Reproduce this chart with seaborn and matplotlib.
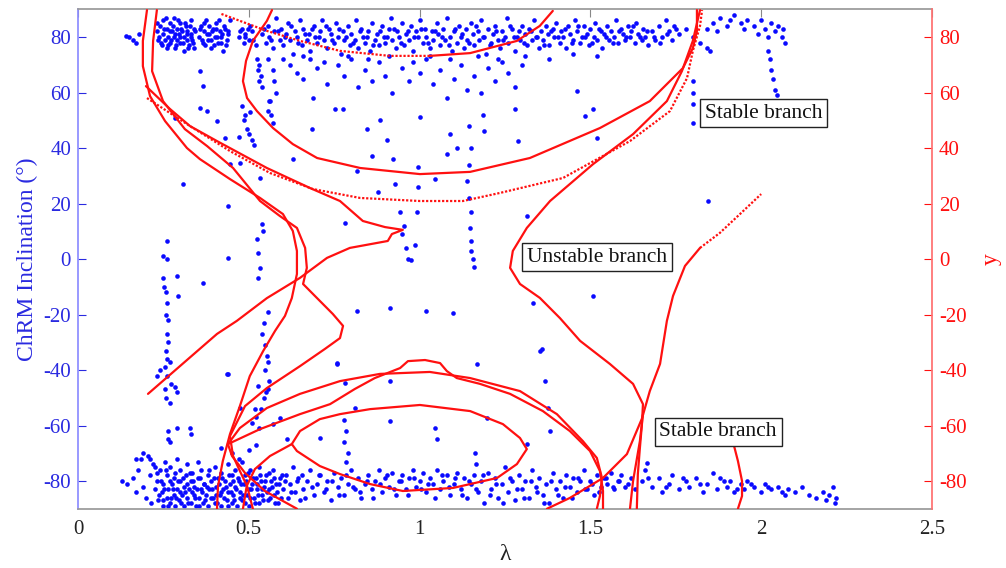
import numpy as np
import pandas as pd
import matplotlib
matplotlib.use("Agg")
import matplotlib.pyplot as plt
import seaborn as sns

# ---------------- data: blue scatter (ChRM inclination vs lambda) ----------------
upper_band_lam = [0.14, 0.15, 0.16, 0.17, 0.18,
    0.23, 0.235, 0.24, 0.245, 0.25, 0.25, 0.255, 0.26, 0.26, 0.265, 0.27, 0.27, 0.275, 0.28, 0.28, 0.285,
    0.29, 0.29, 0.295, 0.30, 0.30, 0.305, 0.31, 0.31, 0.315, 0.32, 0.32, 0.325, 0.33, 0.33, 0.335, 0.34, 0.34,
    0.355, 0.36, 0.365, 0.37, 0.375, 0.38, 0.385, 0.39, 0.395, 0.40, 0.405, 0.41, 0.415, 0.42, 0.425, 0.43,
    0.435, 0.44, 0.445, 0.47, 0.48, 0.485, 0.49, 0.50, 0.505, 0.51, 0.52,
    0.54, 0.55, 0.555, 0.56, 0.57, 0.575, 0.58, 0.59, 0.595, 0.60, 0.61, 0.615, 0.62, 0.63, 0.635, 0.64, 0.65,
    0.655, 0.66, 0.67, 0.675, 0.68, 0.69, 0.695, 0.70, 0.71, 0.715, 0.72, 0.73, 0.735, 0.74, 0.75, 0.755, 0.76,
    0.77, 0.775, 0.78, 0.79, 0.795, 0.80, 0.81, 0.815, 0.82, 0.83, 0.835, 0.84, 0.85, 0.855, 0.86, 0.87, 0.875,
    0.88, 0.89, 0.895, 0.90, 0.91, 0.915, 0.92, 0.93, 0.935, 0.94, 0.95, 0.955, 0.96, 0.97, 0.975, 0.98, 0.99,
    0.995, 1.00, 1.01, 1.015, 1.02, 1.03, 1.035, 1.04, 1.05, 1.055, 1.06, 1.07, 1.075, 1.08, 1.09, 1.095, 1.10,
    1.11, 1.115, 1.12, 1.13, 1.135, 1.14, 1.15, 1.155, 1.16, 1.17, 1.175, 1.18, 1.19, 1.195, 1.20, 1.21, 1.215,
    1.22, 1.23, 1.235, 1.24, 1.25, 1.255, 1.26, 1.27, 1.275, 1.28, 1.29, 1.295, 1.30, 1.31, 1.315, 1.32, 1.33,
    1.335, 1.34, 1.35, 1.355, 1.36, 1.37, 1.375, 1.38, 1.39, 1.395, 1.40, 1.41, 1.415, 1.42, 1.43, 1.435, 1.44,
    1.45, 1.455, 1.46, 1.47, 1.475, 1.48, 1.49, 1.495, 1.50, 1.51, 1.515, 1.52, 1.53, 1.535, 1.54, 1.55, 1.555,
    1.56, 1.57, 1.575, 1.58, 1.59, 1.595, 1.60, 1.61, 1.615, 1.62, 1.63, 1.635, 1.64, 1.65, 1.655, 1.66, 1.67,
    1.68, 1.69, 1.70, 1.71, 1.72, 1.73, 1.74, 1.75, 1.76,
    1.78, 1.80, 1.82, 1.84, 1.84, 1.85, 1.86, 1.87, 1.88, 1.90, 1.91, 1.92, 1.94, 1.95, 1.96, 1.98, 1.99, 2.00,
    2.01, 2.02, 2.03, 2.04, 2.05, 2.06, 2.065, 2.07]
upper_band_inc = [80.5, 80, 79, 78, 81,
    82, 79, 84, 77, 81, 86, 79, 83, 76, 80, 85, 78, 82, 80, 87, 76,
    83, 79, 81, 85, 78, 82, 80, 75, 84, 79, 82, 77, 81, 86, 79, 83, 76,
    80, 84, 78, 82, 86, 79, 81, 76, 83, 80, 85, 78, 82, 80, 75, 83,
    79, 81, 86, 80, 83, 78, 81, 79, 84, 82, 77,
    81, 78, 84, 80, 76, 82, 87, 79, 83, 77, 81, 85, 79, 74, 82, 80, 86,
    77, 83, 79, 81, 75, 84, 80, 78, 82, 86, 79, 76, 83, 81, 78, 85, 80,
    74, 82, 79, 84, 77, 81, 79, 86, 76, 83, 80, 78, 82, 75, 85, 79, 81,
    77, 84, 80, 78, 83, 87, 79, 76, 82, 80, 85, 77, 81, 79, 84, 75, 82,
    80, 86, 78, 83, 80, 76, 82, 79, 85, 81, 77, 83, 79, 87, 80, 75, 82,
    78, 84, 80, 76, 83, 79, 85, 81, 77, 82, 79, 86, 80, 74, 83, 78, 81,
    84, 79, 76, 82, 80, 87, 78, 83, 80, 75, 82, 79, 84, 81, 77, 83, 79,
    86, 80, 76, 82, 79, 84, 81, 77, 83, 80, 85, 78, 82, 80, 76, 84, 81,
    79, 86, 82, 78, 80, 84, 81, 77, 83, 80, 85, 79, 82, 76, 81, 84, 79,
    82, 80, 86, 78, 83, 81, 79, 84, 80, 82, 78, 85, 81, 79, 83, 80, 77,
    82, 79, 84, 80, 86, 82, 79, 83, 81,
    83, 80, 78, 83, 76, 75, 85, 82, 87, 84, 86, 88, 85, 83, 86, 84, 81, 86,
    83, 80, 85, 82, 84, 80, 83, 78]

upper_band2_lam = [0.232, 0.238, 0.243, 0.252, 0.258, 0.263, 0.268, 0.273, 0.278, 0.283, 0.288, 0.292, 0.298,
    0.303, 0.308, 0.312, 0.318, 0.323, 0.328, 0.332, 0.338, 0.343,
    0.358, 0.363, 0.368, 0.372, 0.378, 0.383, 0.388, 0.392, 0.398, 0.403, 0.408, 0.412, 0.418, 0.423, 0.428,
    0.433, 0.438, 0.475, 0.488, 0.498, 0.512,
    0.545, 0.565, 0.585, 0.605, 0.625, 0.645, 0.665, 0.685, 0.705, 0.725, 0.745, 0.765, 0.785, 0.805, 0.825,
    0.845, 0.865, 0.885, 0.905, 0.925, 0.945, 0.965, 0.985, 1.005, 1.025, 1.045, 1.065, 1.085, 1.105, 1.125,
    1.145, 1.165, 1.185, 1.205, 1.225, 1.245, 1.265, 1.285, 1.305, 1.325, 1.345, 1.365, 1.385, 1.405, 1.425,
    1.445, 1.465, 1.485, 1.505, 1.525, 1.545, 1.565, 1.585, 1.605, 1.625, 1.645, 1.665, 1.685, 1.705, 1.725,
    1.745,
    0.60, 0.66, 0.72, 0.79, 0.85, 0.91, 0.98, 1.03, 1.09, 1.17, 1.23, 1.31, 1.38, 1.45, 1.52]
upper_band2_inc = [85, 80, 78, 83, 87, 77, 82, 79, 84, 81, 77, 86, 80,
    83, 78, 85, 81, 76, 84, 80, 78, 82,
    83, 79, 85, 77, 81, 84, 79, 82, 77, 83, 80, 86, 78, 81, 84,
    77, 82, 82, 80, 83, 79,
    83, 79, 82, 80, 84, 78, 81, 83, 80, 84, 79, 83, 80, 78, 82,
    80, 77, 82, 80, 83, 78, 82, 80, 83, 78, 82, 80, 77, 83, 81,
    78, 84, 80, 77, 82, 79, 84, 80, 78, 82, 80, 77, 82, 80, 83,
    78, 84, 80, 78, 83, 80, 78, 82, 80, 84, 80, 82, 80, 78, 81,
    84,
    72, 73, 71, 73, 72, 73, 71, 73, 72, 73, 72, 73, 72, 74, 73]

lower_band_lam = [0.13, 0.145, 0.16, 0.17, 0.175, 0.185, 0.19, 0.20, 0.205, 0.21, 0.215, 0.22, 0.225, 0.23,
    0.235, 0.24, 0.245, 0.25, 0.25, 0.255, 0.26, 0.26, 0.265, 0.27, 0.27, 0.275, 0.28, 0.28, 0.285, 0.29, 0.29,
    0.295, 0.30, 0.30, 0.305, 0.31, 0.31, 0.315, 0.32, 0.32, 0.325, 0.33, 0.33, 0.335, 0.34, 0.34, 0.345, 0.35,
    0.35, 0.355, 0.36, 0.36, 0.365, 0.37, 0.375, 0.38, 0.38, 0.385, 0.39, 0.395, 0.40, 0.40, 0.405, 0.41, 0.415,
    0.42, 0.42, 0.425, 0.43, 0.435, 0.44, 0.44, 0.445, 0.45, 0.45, 0.455, 0.46, 0.46, 0.465, 0.47, 0.475, 0.48,
    0.48, 0.485, 0.49, 0.495, 0.50, 0.50, 0.505, 0.51, 0.515, 0.52, 0.525, 0.53, 0.53, 0.535, 0.54, 0.545, 0.55,
    0.555, 0.56, 0.565, 0.57, 0.575, 0.58, 0.585, 0.59, 0.60, 0.61, 0.615, 0.62, 0.63, 0.635, 0.64, 0.65, 0.655,
    0.66, 0.67, 0.68, 0.69, 0.70, 0.71, 0.72, 0.73, 0.74, 0.75, 0.76, 0.77, 0.78, 0.79, 0.80, 0.81, 0.82, 0.83,
    0.84, 0.85, 0.86, 0.87, 0.88, 0.89, 0.90, 0.91, 0.92, 0.93, 0.94, 0.95, 0.96, 0.97, 0.98, 0.99, 1.00, 1.01,
    1.02, 1.03, 1.04, 1.05, 1.06, 1.07, 1.08, 1.09, 1.10, 1.11, 1.12, 1.13, 1.14, 1.15, 1.16, 1.17, 1.18, 1.19,
    1.20, 1.21, 1.22, 1.23, 1.24, 1.25, 1.26, 1.27, 1.28, 1.29, 1.30, 1.31, 1.32, 1.33, 1.34, 1.35, 1.36, 1.37,
    1.38, 1.39, 1.40, 1.41, 1.42, 1.43, 1.44, 1.45, 1.46, 1.47, 1.48, 1.49, 1.50, 1.51, 1.52, 1.53, 1.54, 1.55,
    1.56, 1.57, 1.58, 1.59, 1.60, 1.62, 1.63, 1.65, 1.66, 1.68, 1.70, 1.71, 1.73, 1.74, 1.76, 1.78, 1.79, 1.81,
    1.83, 1.84, 1.86, 1.87, 1.88, 1.90, 1.91, 1.92, 1.94, 1.95, 1.96, 1.98, 2.00, 2.01, 2.03, 2.05, 2.07, 2.08,
    2.10, 2.12, 2.14, 2.16, 2.18, 2.19, 2.20, 2.21, 2.215, 2.22]
lower_band_inc = [-80, -81, -79, -84, -76, -72, -82, -86, -71, -78, -88, -74, -83, -80,
    -87, -76, -84, -89, -81, -73, -86, -78, -83, -88, -75, -81, -85, -79, -89, -72, -83,
    -87, -80, -76, -85, -89, -82, -78, -86, -74, -83, -88, -80, -77, -85, -82, -89, -79,
    -73, -86, -83, -76, -88, -81, -85, -78, -89, -83, -80, -86, -75, -88, -82, -79, -85,
    -89, -77, -83, -80, -87, -74, -84, -81, -88, -78, -85, -82, -76, -89, -80, -84, -87,
    -73, -81, -78, -85, -83, -89, -76, -81, -86, -79, -83, -88, -75, -80, -85, -82, -78,
    -87, -83, -80, -76, -85, -81, -88, -79, -83, -78, -86, -81, -75, -84, -80, -87, -78,
    -83, -80, -76, -85, -81, -78, -84, -80, -87, -77, -82, -79, -85, -81, -76, -83, -79, -86,
    -81, -78, -83, -80, -76, -84, -79, -82, -77, -85, -80, -78, -83, -79, -76, -82, -80, -77,
    -84, -79, -81, -76, -83, -80, -78, -85, -81, -77, -83, -79, -86, -81, -78, -84, -80, -88,
    -77, -83, -79, -86, -81, -75, -84, -80, -87, -78, -83, -80, -86, -76, -82, -79, -85, -81,
    -88, -77, -83, -80, -86, -78, -82, -79, -84, -80, -76, -83, -80, -85, -78, -82, -79, -81,
    -77, -83, -80, -78, -82, -79, -83, -80, -76, -82, -79, -84, -81, -78, -83, -80, -82, -79,
    -84, -81, -77, -83, -79, -82, -80, -84, -81, -83, -80, -82, -84, -81, -83, -82, -85, -83,
    -84, -82, -85, -86, -84, -87, -85, -82, -88, -86]

lower_band2_lam = [0.232, 0.238, 0.243, 0.248, 0.253, 0.258, 0.263, 0.268, 0.273, 0.278, 0.283, 0.288, 0.293,
    0.298, 0.303, 0.308, 0.313, 0.318, 0.323, 0.328, 0.333, 0.338, 0.343, 0.348, 0.353, 0.358, 0.363, 0.368,
    0.373, 0.378, 0.383, 0.388, 0.393, 0.398, 0.403, 0.408, 0.413, 0.418, 0.423, 0.428, 0.433, 0.438, 0.443,
    0.448, 0.453, 0.458, 0.463, 0.468, 0.473, 0.478, 0.483, 0.488, 0.493, 0.498, 0.503, 0.508, 0.513, 0.518,
    0.523, 0.528, 0.533, 0.538, 0.543, 0.548, 0.553, 0.558, 0.563, 0.568, 0.573, 0.578, 0.583, 0.588, 0.593,
    0.598,
    0.605, 0.625, 0.645, 0.665, 0.685, 0.705, 0.725, 0.745, 0.765, 0.785, 0.805, 0.825, 0.845, 0.865, 0.885,
    0.905, 0.925, 0.945, 0.965, 0.985, 1.005, 1.025, 1.045, 1.065, 1.085, 1.105, 1.125, 1.145, 1.165, 1.185,
    1.205, 1.225, 1.245, 1.265, 1.285, 1.305, 1.325, 1.345, 1.365, 1.385, 1.405, 1.425, 1.445, 1.465, 1.485,
    1.505, 1.525, 1.545, 1.565, 1.585, 1.61, 1.67, 1.72, 1.77, 1.82, 1.89, 1.93, 1.97, 2.02, 2.06,
    0.17, 0.19, 0.21, 0.225]
lower_band2_inc = [-77, -85, -80, -87, -83, -76, -89, -80, -86, -83, -77, -86, -80,
    -84, -88, -79, -84, -81, -88, -77, -84, -80, -86, -83, -89, -79, -84, -81,
    -87, -82, -76, -86, -83, -79, -85, -88, -81, -84, -79, -86, -82, -89, -78,
    -84, -80, -87, -83, -79, -86, -81, -85, -88, -80, -77, -86, -83, -79, -88,
    -81, -85, -78, -83, -87, -80, -84, -77, -86, -82, -79, -88, -84, -81, -86,
    -78,
    -80, -84, -79, -86, -82, -78, -83, -80, -85, -78, -82, -84, -80, -86, -81,
    -78, -83, -80, -85, -79, -83, -81, -86, -78, -82, -79, -85, -80, -83, -78,
    -85, -81, -88, -79, -83, -86, -80, -84, -88, -80, -85, -82, -86, -79, -83,
    -81, -84, -79, -82, -80, -81, -79, -82, -79, -81, -80, -83, -81, -82, -84,
    -72, -70, -72, -75]

sparse_lam = [0.53, 0.535, 0.54, 0.555, 0.57, 0.575, 0.58, 0.62, 0.64, 0.66, 0.68, 0.70, 0.73, 0.76, 0.78,
    0.80, 0.82, 0.84, 0.86, 0.88, 0.90, 0.92, 0.95, 0.97, 1.00, 1.02, 1.04, 1.06, 1.08, 1.10, 1.12, 1.14,
    1.16, 1.18, 1.20, 1.22, 1.24, 1.26, 1.28, 1.30,
    0.48, 0.49, 0.485, 0.495, 0.50, 0.51, 0.515, 0.47, 0.505, 0.56, 0.565, 0.57,
    1.145, 1.15, 1.145, 1.14, 1.145, 1.15, 1.148, 1.15, 1.152, 1.155, 1.158,
    0.948, 0.96, 0.975, 0.955,
    0.776, 0.846, 0.884, 0.904, 0.86, 0.922, 0.995, 1.0, 1.045, 1.089, 1.109, 1.08, 0.928, 0.995, 0.878,
    0.782, 0.943, 0.992, 0.987, 0.966, 1.288, 1.279, 1.19, 1.186, 1.461, 1.484, 1.508, 1.519, 1.314, 0.817,
    0.357, 0.366, 0.357, 0.377, 0.407, 0.284, 0.43, 0.445, 0.474, 0.307, 0.44, 0.533, 0.538, 0.524, 0.541,
    0.527, 0.533, 0.44, 0.26, 0.249, 0.26, 0.249, 0.29, 0.366, 0.527, 0.752, 0.685, 0.629, 0.562, 0.556,
    0.524, 0.527, 0.53, 0.688,
    1.80, 1.80, 1.80, 1.80, 1.845, 2.02, 2.025, 2.03, 2.035, 2.04, 2.045,
    0.252, 0.258, 0.262, 0.258, 0.265, 0.26, 0.265, 0.258, 0.262, 0.27, 0.255, 0.26, 0.272, 0.255, 0.258,
    0.268, 0.285, 0.29, 0.24, 0.23, 0.265, 0.27,
    0.44, 0.293, 0.328, 0.33, 0.29, 0.265,
    0.555, 0.545, 0.54, 0.548, 0.552, 0.555, 0.548, 0.56, 0.555, 0.545, 0.535, 0.52, 0.51, 0.53,
    0.436, 0.527, 0.55, 0.518, 0.474, 0.591, 0.571, 0.708, 0.758, 0.78, 0.785, 0.78, 0.79, 0.785, 0.612,
    0.817, 0.913, 1.02, 1.098, 1.332, 1.508, 1.352, 1.168, 0.913, 1.367, 0.758, 0.782, 0.81, 0.913, 1.376,
    1.382, 1.197, 1.314, 1.666, 1.358, 1.045, 1.05, 1.162, 1.165, 0.42, 0.45, 0.47, 0.50, 0.52]
sparse_inc = [70, 66, 62, 72, 68, 64, 60, 70, 67, 65, 72, 69, 63, 70, 66,
    72, 62, 68, 64, 71, 66, 60, 69, 64, 67, 72, 63, 68, 58, 65, 70, 61,
    66, 60, 69, 64, 71, 67, 62, 70,
    55, 52, 50, 47, 45, 43, 41, 44, 53, 57, 52, 49,
    48, 40, 34, 28, 22, 17, 11, 6.5, 3, 0, -3,
    9, 4, -0.5, 12,
    54, 47, 50, 43, 37, 36, 33, 51, 29, 45, 40, 38, 27, 26, 24,
    13, 17, 17, 5, 0, 42.5, 54, 46, 52, 60.5, 51.5, 54, 43.6, 15.5, 31.7,
    67.7, 62.3, 54.4, 53.3, 49.7, 50.8, 43.6, 34.2, 34.6, 27, 19.1, 29.2, 12.6, 7.2, 10.1,
    2.2, -3.2, 0.4, 6.5, 1.1, 0, -6.8, -6.1, -8.6, -6.8, 54, 46.8, 36, 57, 53.3,
    72, 68, 64, 58,
    64, 60, 56, 49, 21, 75, 72, 68, 65, 61, 59,
    -10, -12, -16, -20, -22, -27, -30, -33, -36, -37, -39, -42, -45, -47, -50,
    -52, -46, -48, -40, -42, -62, -66,
    -41.4, -13.3, -60.9, -63, -61, -65,
    -19, -23, -27, -31, -35, -37, -40, -44, -47, -50, -54, -57, -59, -61,
    -41.5, -45.8, -48, -54, -53.7, -57.3, -59.5, -64.5, -37.8, -58, -62, -66, -70, -73, -65,
    -18.7, -17.6, -18.7, -19.5, -15.9, -13.3, -33.2, -37.8, -44, -44, -37.5, -44.7, -53.7, -58.4, -53.7,
    -62, -57.3, -66.7, -73.5, -32.4, -61, -65, -70, -74, -68, -70, -72, -69, -67]

# ---------------- data: red curves (y vs lambda, right axis) ----------------
curve_A_lam = [0.42, 0.553, 0.65, 0.767, 0.913, 1.03, 1.148, 1.285, 1.352, 1.39]
curve_A_y = [88.3, 82.2, 78.6, 75.0, 73.2, 73.2, 74.2, 78.6, 84.0, 89.4]

curve_B_lam = [0.568, 0.553, 0.512, 0.492, 0.483, 0.495, 0.524, 0.571, 0.629, 0.70, 0.826, 1.001, 1.148,
               1.323, 1.528, 1.674, 1.771, 1.80, 1.812, 1.812]
curve_B_y = [89.7, 85.8, 78.6, 71.4, 64.1, 58.0, 53.3, 47.2, 41.4, 36.4, 32.8, 30.6, 31.4,
             36.4, 47.2, 56.9, 68.8, 76.0, 82.2, 89.7]

curve_C_lam = [0.202, 0.328, 0.445, 0.562, 0.688, 0.826, 1.001, 1.127, 1.235, 1.42, 1.616, 1.733, 1.783,
               1.80, 1.821, 1.827]
curve_C_y = [58.0, 47.9, 38.9, 31.0, 25.2, 22.0, 20.9, 20.9, 23.8, 29.2, 42.5, 53.3, 65.2, 75.0, 84.0, 89.7]

curve_S_lam = [0.199, 0.269, 0.328, 0.407, 0.553, 0.679, 0.767, 0.834, 0.899, 0.951, 0.919, 0.907, 0.796,
               0.729, 0.65, 0.553, 0.465, 0.407, 0.205]
curve_S_y = [62.3, 54.1, 47.9, 42.5, 32.8, 25.6, 20.9, 13.7, 11.5, 10.5, 9.0, 6.5, 4.0,
             0.4, -6.8, -14.1, -22.3, -27.0, -48.6]

curve_La_lam = [0.202, 0.19, 0.19, 0.211, 0.255, 0.319, 0.357, 0.445, 0.533, 0.60, 0.629, 0.641, 0.641,
                0.626, 0.606, 0.577, 0.542, 0.503, 0.474, 0.445, 0.424, 0.41, 0.407]
curve_La_y = [89.7, 78.6, 69.5, 58.7, 49.7, 40.0, 36.0, 28.8, 22.0, 16.2, 10.1, 2.9, -5.4,
              -14.1, -20.5, -25.9, -33.2, -42.2, -53.0, -63.1, -72.8, -81.8, -90.0]

curve_Lb_lam = [0.231, 0.22, 0.217, 0.249, 0.313, 0.378, 0.454, 0.533, 0.591, 0.641, 0.665, 0.67, 0.659,
                0.70, 0.746, 0.776, 0.767, 0.723, 0.65, 0.553, 0.489, 0.445, 0.454, 0.474, 0.495, 0.512]
curve_Lb_y = [89.7, 78.6, 67.7, 56.9, 46.8, 40.7, 32.8, 20.9, 15.5, 11.2, 4.0, -3.2, -9.0,
              -14.1, -19.8, -24.1, -28.5, -32.4, -38.6, -46.5, -53.0, -63.8, -71.0, -76.4, -81.8, -90.0]

curve_U_lam = [1.821, 1.80, 1.768, 1.724, 1.625, 1.508, 1.382, 1.314, 1.273, 1.265, 1.294, 1.352, 1.411,
               1.47, 1.557, 1.625, 1.654, 1.651, 1.645, 1.639, 1.636]
curve_U_y = [89.7, 78.6, 67.7, 56.9, 45.0, 34.2, 20.9, 11.2, 2.9, -3.2, -9.0, -14.0, -21.3,
             -29.5, -37.8, -45.0, -52.3, -59.5, -68.1, -77.5, -90.0]

curve_D_lam = [1.373, 1.44, 1.537, 1.607, 1.651, 1.674, 1.704, 1.724, 1.742, 1.777, 1.821]
curve_D_y = [-90.0, -86.1, -78.9, -70.3, -57.5, -47.6, -37.8, -22.3, -13.3, -2.5, 4.0]
curve_Ddot_lam = [1.821, 1.879, 1.938, 2.0]
curve_Ddot_y = [4.0, 9.4, 16.2, 23.4]

curve_V_lam = [1.616, 1.625, 1.645, 1.654]
curve_V_y = [-90.0, -80.0, -65.6, -55.9]

curve_R_lam = [1.917, 1.932, 1.944, 1.944, 1.932]
curve_R_y = [-65.6, -72.8, -80.0, -85.4, -90.0]

curve_E1_lam = [0.641, 0.547, 0.489, 0.451, 0.439, 0.474, 0.553, 0.65, 0.767, 0.884, 1.03, 1.148, 1.294,
                1.402, 1.478, 1.519, 1.534, 1.528, 1.519]
curve_E1_y = [-90.0, -83.6, -77.1, -71.0, -66.7, -60.9, -53.7, -48.6, -44.0, -41.4, -40.7, -42.9, -47.6,
              -55.9, -65.6, -71.7, -78.9, -85.4, -90.0]

curve_E2_lam = [0.439, 0.533, 0.65, 0.738, 0.811, 0.869, 0.943, 0.966, 1.016, 1.06, 1.08, 1.109, 1.177,
                1.265, 1.361, 1.44, 1.499, 1.528, 1.537, 1.537]
curve_E2_y = [-66.7, -61.3, -55.9, -52.3, -46.8, -42.9, -39.3, -36.8, -36.4, -37.5, -40.4, -42.9, -45.0,
              -48.6, -54.8, -62.0, -69.2, -76.4, -83.6, -90.0]

curve_E3_lam = [0.626, 0.65, 0.708, 0.767, 0.855, 1.001, 1.148, 1.244, 1.294, 1.314, 1.285, 1.227, 1.098,
                0.951, 0.855, 0.767, 0.708, 0.641, 0.626]
curve_E3_y = [-66.7, -62.0, -57.7, -55.9, -54.1, -52.6, -54.8, -59.5, -64.5, -68.5, -73.9, -78.9, -82.5,
              -83.6, -81.1, -77.5, -74.6, -69.2, -66.7]

curve_F_lam = [0.626, 0.562, 0.518, 0.494, 0.483]
curve_F_y = [-66.7, -71.0, -75.7, -81.8, -90.0]

x_ticks = [0, 0.5, 1, 1.5, 2, 2.5]
x_tick_labels = ["0", "0.5", "1", "1.5", "2", "2.5"]
y_ticks = [-80, -60, -40, -20, 0, 20, 40, 60, 80]

labels = [("Stable branch", 2.008, 52.6), ("Unstable branch", 1.519, 0.7), ("Stable branch", 1.874, -62.3)]

# ---------------- plotting ----------------
sns.set_theme(style="white")
plt.rcParams['font.family'] = ['Liberation Serif', 'DejaVu Serif']
plt.rcParams['axes.unicode_minus'] = False

BLUE = "#0a0aff"
BLUE_TXT = "#2a2ae0"
RED = "#ff1010"

fig = plt.figure(figsize=(10.06, 5.68), dpi=100)
ax = fig.add_axes([0.0775, 0.1043, 0.8489, 0.8794])

scatter_sets = [(upper_band_lam, upper_band_inc), (upper_band2_lam, upper_band2_inc),
                (lower_band_lam, lower_band_inc), (lower_band2_lam, lower_band2_inc),
                (sparse_lam, sparse_inc)]
for lam, inc in scatter_sets:
    df = pd.DataFrame({"lam": lam, "inc": inc})
    sns.scatterplot(data=df, x="lam", y="inc", s=11, color=BLUE, edgecolor=None, linewidth=0, ax=ax, zorder=2)

ax.set_xlim(0, 2.5)
ax.set_ylim(-90, 90)
ax.set_xticks(x_ticks)
ax.set_xticklabels(x_tick_labels)
ax.set_yticks(y_ticks)
ax.set_xlabel("λ", fontsize=17, color="#222222", labelpad=4)
ax.set_ylabel("ChRM Inclination (°)", fontsize=17, color=BLUE_TXT, labelpad=4)
ax.tick_params(axis="y", direction="in", length=6, width=0.8, colors=BLUE_TXT, labelsize=15, pad=5)
ax.tick_params(axis="x", direction="in", length=6, width=0.8, color="#888888", labelcolor="#222222",
               labelsize=15, pad=8, top=True)
for side in ["top", "bottom"]:
    ax.spines[side].set_color("#999999")
ax.spines["left"].set_color("#8c8cff")
ax.spines["right"].set_visible(False)

ax2 = ax.twinx()
solid = dict(color=RED, linewidth=1.6, linestyle="-")
dotted = dict(color=RED, linewidth=1.6, linestyle=(0, (1, 0.8)))

curves = [
    (curve_A_lam[:6], curve_A_y[:6], dotted),
    (curve_A_lam[5:], curve_A_y[5:], solid),
    (curve_B_lam, curve_B_y, solid),
    (curve_C_lam, curve_C_y, dotted),
    (curve_S_lam, curve_S_y, solid),
    (curve_La_lam, curve_La_y, solid),
    (curve_Lb_lam, curve_Lb_y, solid),
    (curve_U_lam, curve_U_y, solid),
    (curve_D_lam, curve_D_y, solid),
    (curve_Ddot_lam, curve_Ddot_y, dotted),
    (curve_V_lam, curve_V_y, solid),
    (curve_R_lam, curve_R_y, solid),
    (curve_E1_lam, curve_E1_y, solid),
    (curve_E2_lam, curve_E2_y, solid),
    (curve_E3_lam, curve_E3_y, solid),
    (curve_F_lam, curve_F_y, solid),
]
for lam, yy, style in curves:
    df = pd.DataFrame({"lam": lam, "y": yy})
    sns.lineplot(data=df, x="lam", y="y", sort=False, estimator=None, ax=ax2, **style)

ax2.set_ylim(-90, 90)
ax2.set_xlim(0, 2.5)
ax2.set_yticks(y_ticks)
ax2.set_ylabel("y", fontsize=17, color=RED, labelpad=10, rotation=90)
ax2.tick_params(axis="y", direction="in", length=6, width=0.8, colors=RED, labelsize=15, pad=5)
ax2.spines["right"].set_color("#ff7070")
for side in ["left", "top", "bottom"]:
    ax2.spines[side].set_visible(False)

for txt, lx, ly in labels:
    ax2.text(lx, ly, txt, ha="center", va="center", fontsize=15.5, color="#111111", zorder=5,
             bbox=dict(boxstyle="square,pad=0.22", facecolor="white", edgecolor="#222222", linewidth=1.0))

fig.savefig("out.png", dpi=100)
